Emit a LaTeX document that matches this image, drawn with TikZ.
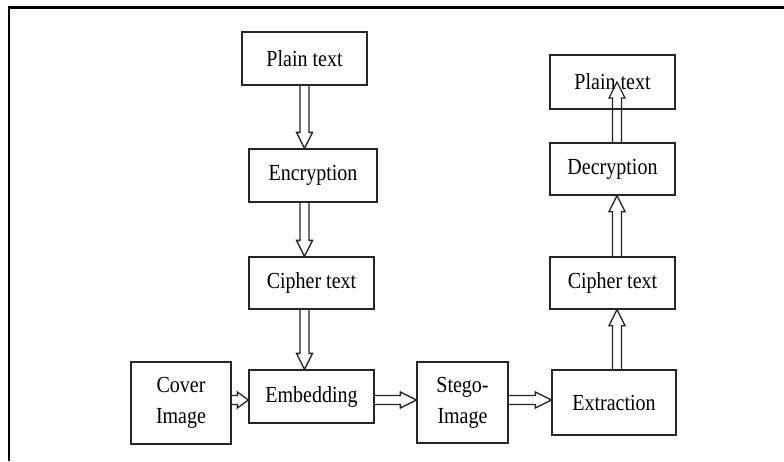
\documentclass[tikz,border=0pt]{standalone}
\usepackage{fontspec}
\setmainfont[FakeStretch=0.87]{Liberation Serif}
\usetikzlibrary{calc}

\definecolor{ink}{HTML}{262626}

\tikzset{
  stage/.style={draw=ink, line width=1.3pt, inner sep=0pt, text=black,
    font=\fontsize{23}{31}\selectfont, align=center},
  blockarr/.style={draw=ink, line width=1.3pt, line join=miter},
}

% hollow block arrow from #2 to #3 (tip at #3), head length #1
\newcommand\blockarrow[3][16pt]{%
  \draw[blockarr] let \p1=(#2), \p2=(#3), \n1={atan2(\y2-\y1,\x2-\x1)} in
    ($(\p1)+(\n1+90:4.5pt)$)
    -- ($(\p2)+(\n1+180:#1)+(\n1+90:4.5pt)$)
    -- ($(\p2)+(\n1+180:#1)+(\n1+90:8pt)$)
    -- (\p2)
    -- ($(\p2)+(\n1+180:#1)+(\n1-90:8pt)$)
    -- ($(\p2)+(\n1+180:#1)+(\n1-90:4.5pt)$)
    -- ($(\p1)+(\n1-90:4.5pt)$);}

\begin{document}
\begin{tikzpicture}[x=1pt, y=1pt]
  \useasboundingbox[fill=white] (0,0) rectangle (784,-461);

  % outer frame (top and left edges)
  \draw[line width=2.5pt, black] (9,-461) -- (9,-7.5) -- (784,-7.5);

  % sender side
  \node[stage, minimum width=125, minimum height=53] (pt1) at (304.5,-58.5) {Plain text};
  \node[stage, minimum width=128, minimum height=53] (enc) at (313,-175.5) {Encryption};
  \node[stage, minimum width=125, minimum height=52] (ct1) at (311.5,-283) {Cipher text};
  \node[stage, minimum width=125, minimum height=53] (emb) at (311.5,-396.5) {Embedding};
  \node[stage, minimum width=100, minimum height=82] (cov) at (181,-403) {Cover\\Image};
  \node[stage, minimum width=91, minimum height=81] (stg) at (462.5,-402.5) {Stego-\\Image};

  % receiver side
  \node[stage, minimum width=124, minimum height=65] (ext) at (614,-402.5) {Extraction};
  \node[stage, minimum width=125, minimum height=52] (ct2) at (612.5,-283) {Cipher text};
  \node[stage, minimum width=125, minimum height=52] (dec) at (612.5,-169) {Decryption};
  \node[stage, minimum width=125, minimum height=54] (pt2) at (612.5,-82) {Plain text};

  % arrow lanes
  \coordinate (colL) at (304.5,0);
  \coordinate (colR) at (617,0);
  \coordinate (row) at (0,-400);

  \blockarrow{colL |- pt1.south}{colL |- enc.north}
  \blockarrow{colL |- enc.south}{colL |- ct1.north}
  \blockarrow{colL |- ct1.south}{colL |- emb.north}
  \blockarrow[11pt]{cov.east |- row}{emb.west |- row}
  \blockarrow{emb.east |- row}{stg.west |- row}
  \blockarrow{stg.east |- row}{ext.west |- row}
  \blockarrow{colR |- ext.north}{colR |- ct2.south}
  \blockarrow{colR |- ct2.north}{colR |- dec.south}
  \blockarrow{colR |- dec.north}{colR |- pt2.center}
\end{tikzpicture}
\end{document}
